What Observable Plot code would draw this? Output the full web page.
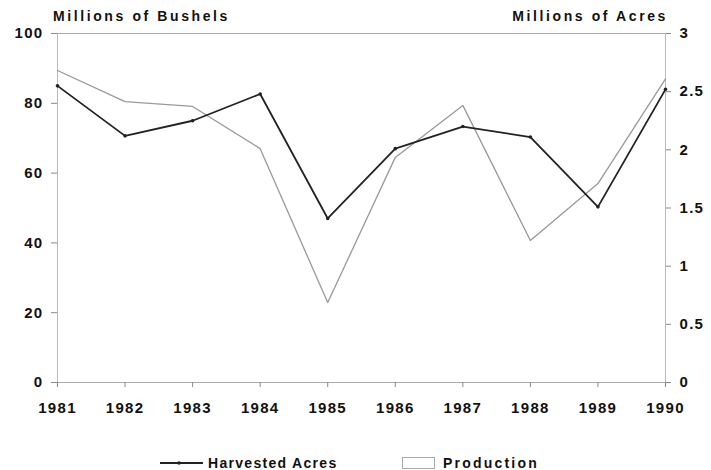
<!DOCTYPE html>
<html>
<head>
<meta charset="utf-8">
<script src="https://cdn.jsdelivr.net/npm/d3@7"></script>
<script src="https://cdn.jsdelivr.net/npm/@observablehq/plot@0.6"></script>
<style>
  body { margin: 0; background: #fff; font-family: "Liberation Sans", Arial, sans-serif; }
  #wrap { position: relative; width: 711px; height: 470px; }
  #chart svg text { letter-spacing: 1.3px; font-weight: bold; }
  .ttl { position: absolute; top: 8px; font-size: 14px; font-weight: bold; letter-spacing: 2.6px; color: #111; white-space: nowrap; }
  #legend { position: absolute; top: 454px; left: 0; width: 711px; height: 18px; font-size: 14px; font-weight: bold; color: #111; }
  .item { position: absolute; top: 0; display: flex; align-items: center; height: 18px; white-space: nowrap; }
</style>
</head>
<body>
<div id="wrap">
  <div id="chart"></div>
  <div class="ttl" style="left:53px;">Millions of Bushels</div>
  <div class="ttl" style="right:43px;">Millions of Acres</div>
  <div id="legend">
    <div class="item" style="left:160px;">
      <svg width="43" height="10"><line x1="0" y1="5" x2="43" y2="5" stroke="#222" stroke-width="1.8"/><circle cx="19" cy="5" r="1.8" fill="#222"/></svg>
      <span style="margin-left:5px;letter-spacing:1.3px;">Harvested Acres</span>
    </div>
    <div class="item" style="left:402px;">
      <div style="width:33px;height:12px;border:1px solid #aaa;box-sizing:border-box;"></div>
      <span style="margin-left:8px;letter-spacing:2.2px;">Production</span>
    </div>
  </div>
</div>
<script>
const years = [1981, 1982, 1983, 1984, 1985, 1986, 1987, 1988, 1989, 1990];
const production = [89.4, 80.5, 79.1, 67.0, 22.9, 64.5, 79.4, 40.7, 57.0, 87.0]; // millions of bushels
const harvestedAcres = [2.55, 2.12, 2.25, 2.48, 1.41, 2.01, 2.20, 2.11, 1.51, 2.52]; // millions of acres
const bushelTicks = [0, 20, 40, 60, 80, 100];
const acreTicks = [0, 0.5, 1, 1.5, 2, 2.5, 3];
const acreMax = 3, bushelMax = 100;

const toB = a => a * bushelMax / acreMax;
const rows = years.map((y, i) => ({year: y, production: production[i], acres: harvestedAcres[i], acresB: toB(harvestedAcres[i])}));

const chart = Plot.plot({
  width: 711,
  height: 440,
  marginTop: 33,
  marginBottom: 58,
  marginLeft: 57,
  marginRight: 46,
  style: {fontFamily: "'Liberation Sans', Arial, sans-serif", fontSize: "15px", color: "#111", background: "#fff"},
  x: {domain: [years[0], years[years.length - 1]]},
  y: {domain: [0, bushelMax]},
  marks: [
    Plot.ruleY([0, bushelMax], {stroke: "#aaa", strokeWidth: 1}),
    Plot.ruleX([years[0], years[years.length - 1]], {stroke: "#bbb", strokeWidth: 1}),
    Plot.axisY({ticks: bushelTicks, tickSize: 6, tickPadding: 8, stroke: "#888", fill: "#111", label: null}),
    Plot.axisY({anchor: "right", ticks: acreTicks.map(toB), tickSize: 5, tickPadding: 9, stroke: "#888", fill: "#111", label: null,
      tickFormat: d => String(+(d * acreMax / bushelMax).toFixed(2))}),
    Plot.axisX({ticks: years, tickSize: 5, tickPadding: 15, stroke: "#888", fill: "#111", label: null, tickFormat: d => String(d)}),
    Plot.line(rows, {x: "year", y: "production", stroke: "#999", strokeWidth: 1.3}),
    Plot.line(rows, {x: "year", y: "acresB", stroke: "#222", strokeWidth: 1.8}),
    Plot.dot(rows, {x: "year", y: "acresB", r: 1.8, fill: "#222"})
  ]
});
document.getElementById("chart").appendChild(chart);
</script>
</body>
</html>
